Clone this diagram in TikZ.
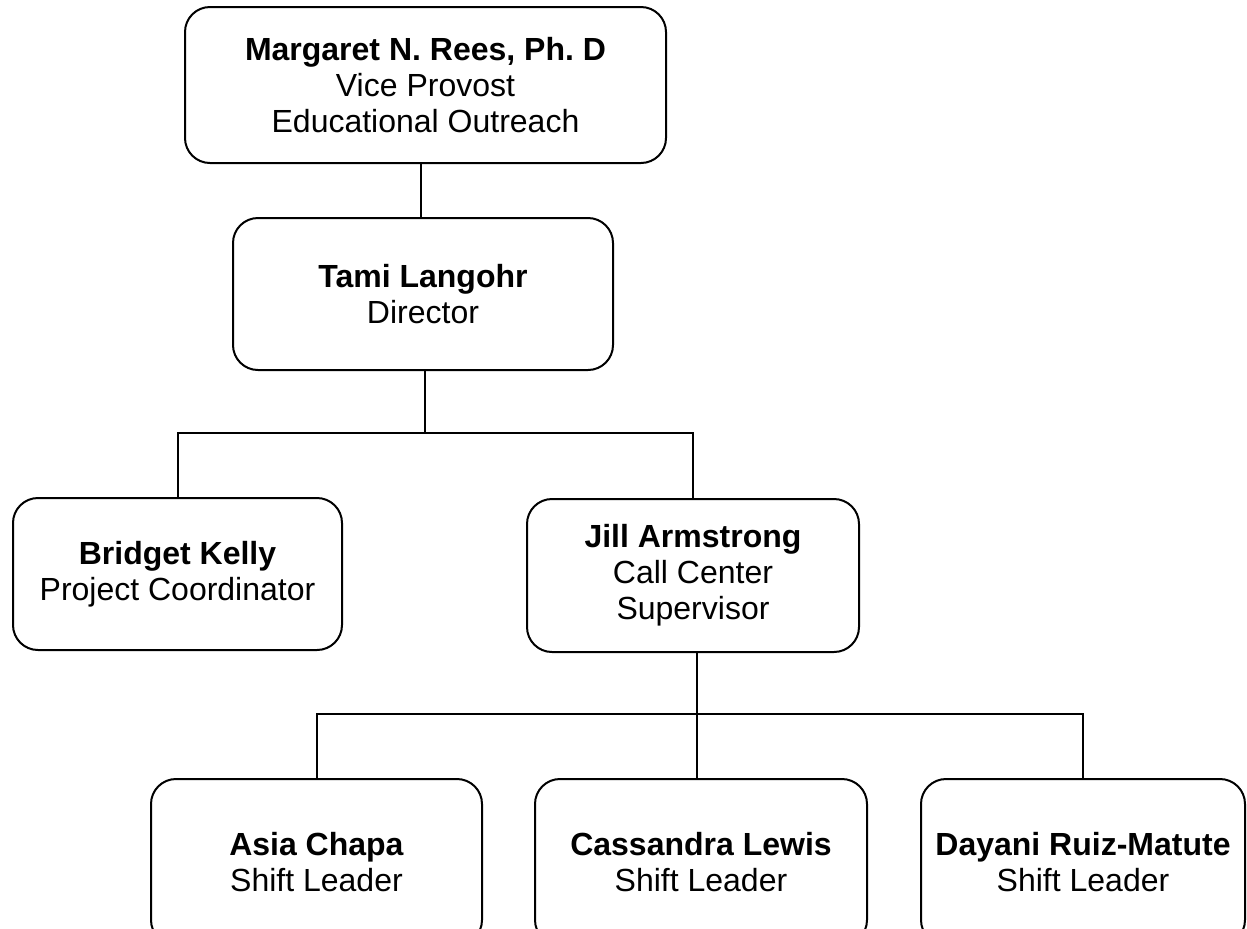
\documentclass[tikz,border=0pt]{standalone}
\usepackage{fontspec}
\setmainfont{Liberation Sans}
\frenchspacing
\begin{document}
\begin{tikzpicture}[x=0.5pt,y=-0.5pt,
  box/.style={draw, line width=1pt, rounded corners=12.5pt, rectangle, align=center,
    inner sep=0pt, font=\fontsize{16}{18}\selectfont},
  conn/.style={line width=1pt}]
\useasboundingbox (0,0) rectangle (1247,928);
\fill[white] (0,0) rectangle (1247,928);
\node[box, minimum width=240.5pt, minimum height=78pt] (m) at (425.5,85)
  {\textbf{Margaret N. Rees, Ph. D}\\Vice Provost\\Educational Outreach};
\node[box, minimum width=190pt, minimum height=76pt] (t) at (423,294)
  {\textbf{Tami Langohr}\\Director};
\node[box, minimum width=164.5pt, minimum height=76pt] (b) at (177.5,574)
  {\textbf{Bridget Kelly}\\Project Coordinator};
\node[box, minimum width=166pt, minimum height=76.5pt] (j) at (693,575.5)
  {\textbf{Jill Armstrong}\\Call Center\\Supervisor};
\node[box, minimum width=165.5pt, minimum height=83pt] (a) at (316.5,862)
  {\textbf{Asia Chapa}\\Shift Leader};
\node[box, minimum width=166pt, minimum height=83pt] (c) at (701,862)
  {\textbf{Cassandra Lewis}\\Shift Leader};
\node[box, minimum width=162pt, minimum height=83pt] (d) at (1083,862)
  {\textbf{Dayani Ruiz-Matute}\\Shift Leader};
\coordinate (top1) at (421,163);
\coordinate (bus1) at (425,433);
\coordinate (bus2) at (697,714);
% Margaret -> Tami
\draw[conn] (t.north -| top1) -- (m.south -| top1);
% Tami -> bus1
\draw[conn] (t.south -| bus1) -- (bus1);
\draw[conn] (b.north) |- (bus1) -| (j.north);
% Jill -> bus2
\draw[conn] (j.south -| bus2) -- (bus2);
\draw[conn] (c.north -| bus2) -- (bus2);
\draw[conn] (a.north) |- (bus2) -| (d.north);
\end{tikzpicture}
\end{document}
